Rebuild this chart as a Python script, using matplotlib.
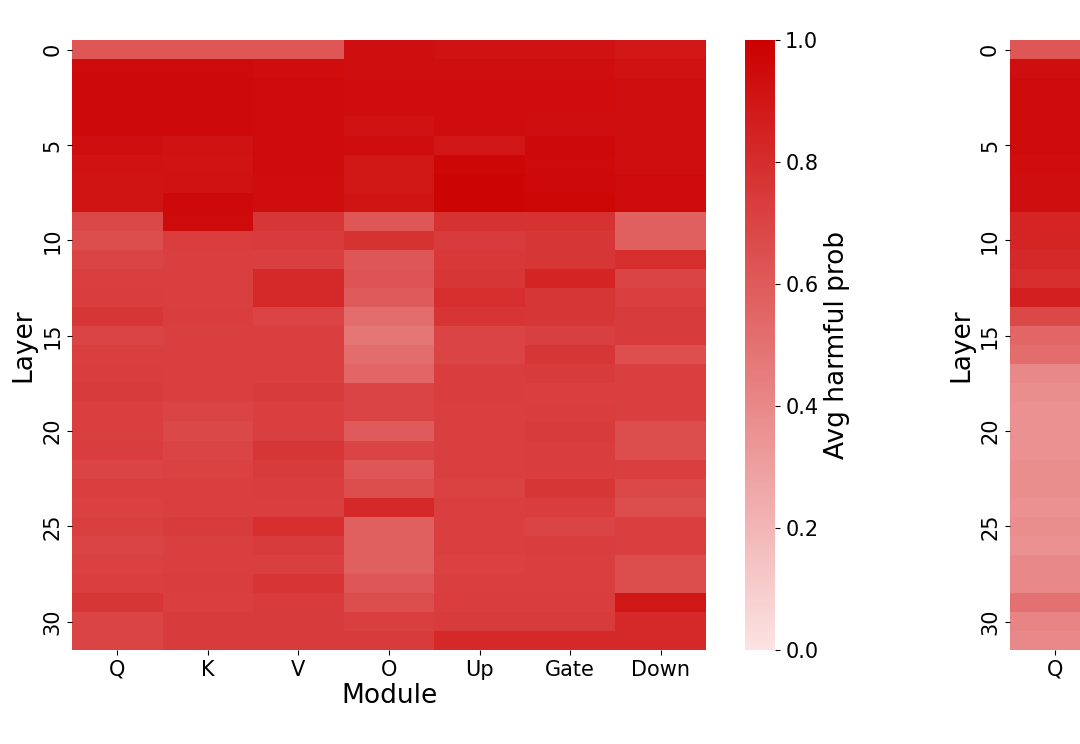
import numpy as np
import matplotlib
matplotlib.use("Agg")
import matplotlib.pyplot as plt
from matplotlib.colors import LinearSegmentedColormap

modules = ["Q", "K", "V", "O", "Up", "Gate", "Down"]
layers = list(range(32))
left_vals = [
[.62,.62,.62,.93,.92,.92,.90],
[.95,.95,.94,.93,.93,.93,.92],
[.96,.96,.95,.94,.94,.94,.93],
[.96,.96,.95,.94,.94,.94,.93],
[.96,.96,.95,.92,.94,.93,.93],
[.93,.92,.95,.94,.90,.96,.93],
[.92,.91,.95,.90,.97,.95,.93],
[.91,.92,.94,.90,.98,.96,.95],
[.91,.96,.94,.91,.98,.97,.95],
[.68,.95,.76,.62,.78,.78,.58],
[.66,.73,.74,.78,.74,.76,.58],
[.70,.72,.72,.62,.75,.76,.80],
[.72,.72,.82,.63,.76,.84,.70],
[.73,.72,.82,.60,.80,.76,.72],
[.76,.73,.70,.52,.77,.76,.74],
[.70,.72,.72,.48,.70,.72,.74],
[.72,.72,.72,.52,.70,.76,.65],
[.73,.72,.72,.55,.73,.74,.72],
[.74,.72,.74,.70,.73,.72,.72],
[.72,.70,.72,.70,.72,.73,.72],
[.72,.68,.72,.60,.72,.74,.66],
[.73,.70,.76,.70,.72,.73,.66],
[.70,.71,.74,.62,.72,.73,.72],
[.72,.72,.73,.66,.71,.76,.68],
[.71,.72,.72,.82,.72,.73,.66],
[.72,.74,.80,.58,.72,.70,.72],
[.70,.72,.74,.58,.72,.73,.72],
[.71,.72,.72,.58,.71,.72,.66],
[.72,.73,.77,.62,.72,.72,.66],
[.76,.72,.74,.66,.73,.73,.90],
[.70,.74,.74,.72,.74,.74,.82],
[.70,.74,.74,.74,.82,.82,.82],
]
right_q = [.62,.93,.95,.95,.95,.95,.94,.93,.93,.84,.84,.82,.80,.86,.68,.55,.52,.40,.38,.36,
           .36,.36,.38,.38,.36,.38,.36,.40,.40,.50,.42,.40]

cmap = LinearSegmentedColormap.from_list("r", ["#fce3e3", "#cc0000"])

fig = plt.figure(figsize=(10.8, 7.44), dpi=100)
ax = fig.add_axes([0.0667, 0.126, 0.587, 0.82])
cax = fig.add_axes([0.69, 0.126, 0.028, 0.82])
ax2 = fig.add_axes([0.935, 0.126, 0.587, 0.82])

data = np.array(left_vals)
m = ax.pcolormesh(data, cmap=cmap, vmin=0, vmax=1)
right = np.tile(np.array(right_q)[:, None], (1, len(modules)))
ax2.pcolormesh(right, cmap=cmap, vmin=0, vmax=1)

for a in (ax, ax2):
    a.set_xlim(0, len(modules)); a.set_ylim(len(layers), 0)
    a.set_yticks(np.arange(0, 32, 5) + 0.5)
    a.set_yticklabels([str(v) for v in range(0, 32, 5)], fontsize=15, rotation=90, va="center")
    a.set_ylabel("Layer", fontsize=19)
    for s in a.spines.values():
        s.set_visible(False)
ax.set_xticks(np.arange(len(modules)) + 0.5)
ax.set_xticklabels(modules, fontsize=15)
ax2.set_xticks([0.5])
ax2.set_xticklabels(modules[:1], fontsize=15)
ax.set_xlabel("Module", fontsize=19, labelpad=2)

cb = fig.colorbar(m, cax=cax)
cb.outline.set_visible(False)
cb.set_ticks([0, 0.2, 0.4, 0.6, 0.8, 1.0])
cb.ax.tick_params(labelsize=15)
cb.set_label("Avg harmful prob", fontsize=19)

fig.savefig("out.png", dpi=100)
